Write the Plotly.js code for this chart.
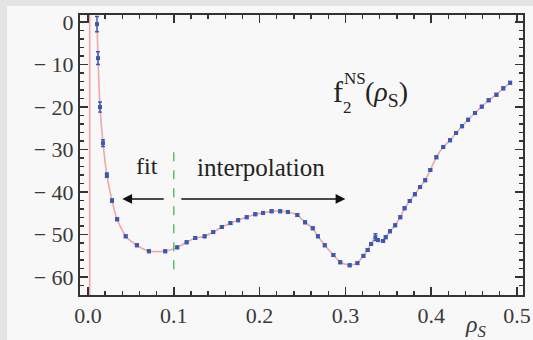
<!DOCTYPE html>
<html>
<head>
<meta charset="utf-8">
<script src="https://cdn.plot.ly/plotly-3.0.1.min.js"></script>
<style>
  html, body { margin: 0; padding: 0; width: 533px; height: 340px; overflow: hidden;
    background: #e4e4e4; }
  #chart { position: absolute; left: 7px; top: 6px; width: 526px; height: 334px; }
</style>
</head>
<body>
<div id="chart"></div>
<script>
// ρ_S values (fit region + interpolation region)
const rho = [
  0.0105, 0.0117, 0.014, 0.0175, 0.022, 0.028, 0.034, 0.044, 0.057, 0.071, 0.090, 0.104,
  0.115, 0.125, 0.136, 0.146, 0.156, 0.166, 0.175, 0.185, 0.195, 0.204, 0.214, 0.224,
  0.233, 0.244, 0.253, 0.262, 0.268, 0.276, 0.286, 0.294, 0.305, 0.314, 0.321, 0.326,
  0.330, 0.335, 0.338, 0.344, 0.347, 0.352, 0.358, 0.364, 0.369, 0.375, 0.381, 0.387,
  0.393, 0.399, 0.406, 0.414, 0.422, 0.429, 0.436, 0.443, 0.451, 0.459, 0.467, 0.476,
  0.484, 0.492
];
// f2^NS values
const f2 = [
  -0.5, -8.5, -20, -28.5, -36, -42, -46.4, -50.4, -52.5, -53.9, -53.9, -53,
  -51.8, -50.8, -50.4, -49.4, -48.2, -47.3, -46.6, -45.9, -45.2, -44.9, -44.5, -44.5,
  -44.7, -45.4, -47.1, -48.5, -50.4, -52.5, -54.8, -56.5, -57.2, -56.7, -55, -53.6,
  -52.2, -50.6, -51.3, -51.5, -50.6, -49.2, -47.8, -45.9, -43.8, -42.1, -40.5, -38.8,
  -37.2, -34.8, -31.8, -29.4, -27.8, -26.1, -24.5, -23.0, -21.4, -19.9, -18.4, -17.1,
  -15.6, -14.3
];
// statistical errors
const f2err = [
  1.8, 1.5, 1.2, 0.8, 0.5, 0.4, 0.3, 0.3, 0.3, 0.3, 0.3, 0.3,
  0.3, 0.3, 0.3, 0.3, 0.3, 0.3, 0.3, 0.3, 0.3, 0.3, 0.3, 0.3,
  0.3, 0.3, 0.3, 0.3, 0.3, 0.3, 0.3, 0.3, 0.3, 0.3, 0.3, 0.3,
  0.3, 0.8, 0.3, 0.3, 0.3, 0.3, 0.3, 0.3, 0.3, 0.3, 0.3, 0.3,
  0.3, 0.3, 0.3, 0.3, 0.3, 0.3, 0.3, 0.3, 0.3, 0.3, 0.3, 0.3,
  0.3, 0.3
];
const poleRho = 0.002;       // fit function pole near ρ_S = 0
const boundaryRho = 0.1;     // fit / interpolation boundary
const xTickVals = [0, 0.1, 0.2, 0.3, 0.4, 0.5];
const xTickText = ['0.0', '0.1', '0.2', '0.3', '0.4', '0.5'];
const yTickVals = [0, -10, -20, -30, -40, -50, -60];
const yTickText = ['0', '\u2212 10', '\u2212 20', '\u2212 30', '\u2212 40', '\u2212 50', '\u2212 60'];

const XR = [-0.0093, 0.507];
const YR = [-64.2, 1.65];
const axisColor = '#333333';
const serif = 'Liberation Serif, Times New Roman, serif';
const labelFont = {family: serif, size: 22, color: '#3a3a3a'};

const traces = [
  {
    x: rho, y: f2, type: 'scatter', mode: 'lines',
    line: {color: '#f3a6a6', width: 1.6, shape: 'spline', smoothing: 0.6},
    hoverinfo: 'skip', showlegend: false
  },
  {
    x: rho, y: f2, type: 'scatter', mode: 'markers',
    marker: {symbol: 'square', size: 4, color: '#3a58b4'},
    error_y: {type: 'data', array: f2err, visible: true, color: '#3a58b4', thickness: 1.4, width: 2},
    showlegend: false
  }
];

const layout = {
  width: 526, height: 334,
  margin: {l: 73, r: 10, t: 9, b: 45},
  paper_bgcolor: '#f8f8f8', plot_bgcolor: '#f8f8f8',
  showlegend: false,
  xaxis: {
    range: XR, showgrid: false, zeroline: false,
    showline: true, linecolor: axisColor, linewidth: 2, mirror: 'ticks',
    ticks: 'inside', ticklen: 8, tickwidth: 1.5, tickcolor: axisColor,
    tickvals: xTickVals, ticktext: xTickText, tickfont: labelFont,
    minor: {dtick: 0.02, tick0: 0, ticks: 'inside', ticklen: 4, tickwidth: 1.3, tickcolor: axisColor, showgrid: false}
  },
  yaxis: {
    range: YR, showgrid: false, zeroline: false,
    showline: true, linecolor: axisColor, linewidth: 2, mirror: 'ticks',
    ticks: 'inside', ticklen: 8, tickwidth: 1.5, tickcolor: axisColor,
    tickvals: yTickVals, ticktext: yTickText, tickfont: labelFont,
    minor: {dtick: 2, tick0: 0, ticks: 'inside', ticklen: 4, tickwidth: 1.3, tickcolor: axisColor, showgrid: false}
  },
  shapes: [
    {type: 'line', xref: 'x', yref: 'paper', x0: poleRho, x1: poleRho, y0: 0, y1: 1,
     line: {color: '#f3a6a6', width: 1.6}, layer: 'below'},
    {type: 'line', xref: 'x', yref: 'y', x0: boundaryRho, x1: boundaryRho, y0: -30.6, y1: -60,
     line: {color: '#5cc06a', width: 1.5, dash: 'dash'}}
  ],
  annotations: [
    {x: 0.040, y: -41.6, ax: 0.090, ay: -41.6, xref: 'x', yref: 'y', axref: 'x', ayref: 'y',
     text: '', showarrow: true, arrowhead: 2, arrowsize: 1.3, arrowwidth: 1.5, arrowcolor: '#111'},
    {x: 0.300, y: -41.6, ax: 0.107, ay: -41.6, xref: 'x', yref: 'y', axref: 'x', ayref: 'y',
     text: '', showarrow: true, arrowhead: 2, arrowsize: 1.3, arrowwidth: 1.5, arrowcolor: '#111'},
    {x: 0.069, y: -33.9, xref: 'x', yref: 'y', text: 'fit', showarrow: false,
     font: {family: serif, size: 24, color: '#222'}},
    {x: 0.2016, y: -34.1, xref: 'x', yref: 'y', text: 'interpolation', showarrow: false,
     font: {family: serif, size: 25, color: '#222'}},
    // title f_2^NS(ρ_S)
    {x: 0.283, y: -16.3, xref: 'x', yref: 'y', xanchor: 'left', text: 'f', showarrow: false,
     font: {family: serif, size: 30, color: '#222'}},
    {x: 0.2955, y: -13.4, xref: 'x', yref: 'y', xanchor: 'left', text: 'NS', showarrow: false,
     font: {family: serif, size: 17, color: '#222'}},
    {x: 0.2950, y: -20.0, xref: 'x', yref: 'y', xanchor: 'left', text: '2', showarrow: false,
     font: {family: serif, size: 17, color: '#222'}},
    {x: 0.3205, y: -16.8, xref: 'x', yref: 'y', xanchor: 'left', text: '(<i>ρ</i><sub>S</sub>)', showarrow: false,
     font: {family: serif, size: 28, color: '#222'}},
    // x-axis label ρ_S
    {x: 0.437, y: -0.11, xref: 'x', yref: 'paper', xanchor: 'left', yanchor: 'middle',
     text: '<i>ρ</i><sub><i>S</i></sub>', showarrow: false,
     font: {family: serif, size: 24, color: '#3a3a3a'}}
  ]
};

Plotly.newPlot('chart', traces, layout, {displayModeBar: false, staticPlot: true});
</script>
</body>
</html>
